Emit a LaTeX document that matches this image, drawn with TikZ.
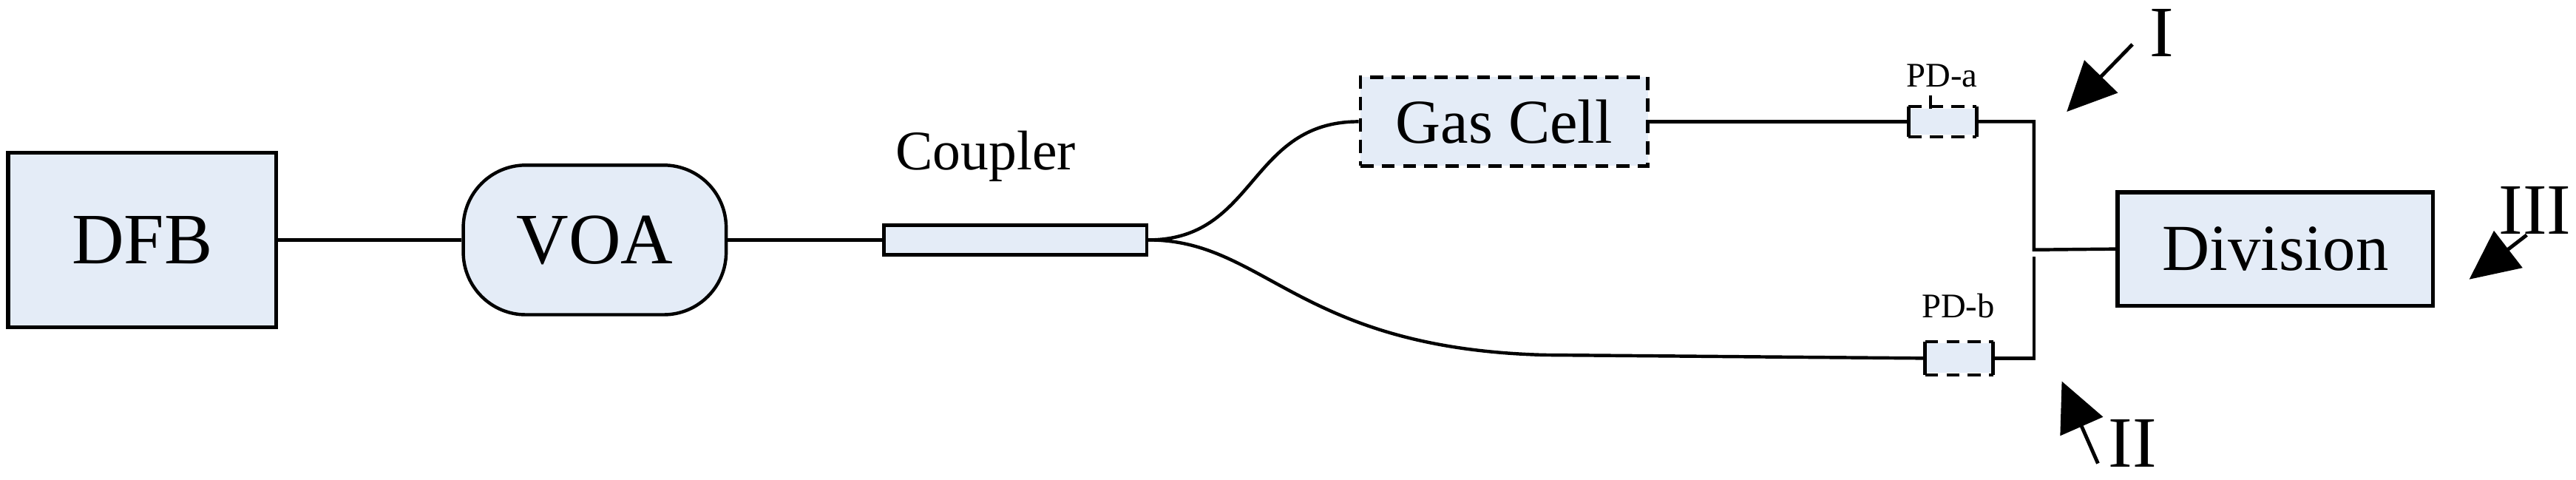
\documentclass[tikz,border=0pt]{standalone}
\usepackage{fontspec}
\setmainfont{Liberation Serif}
\usetikzlibrary{arrows.meta}
\definecolor{fillb}{RGB}{228,236,247}
\begin{document}
\begin{tikzpicture}[x=1pt,y=-1pt,
  box/.style={draw,line width=2.4pt,fill=fillb,inner sep=0pt},
  wire/.style={line width=2pt},
  dsh/.style={dash pattern=on 8pt off 5pt},
  lbl/.style={inner sep=0pt},
  arr/.style={line width=2.2pt,-{Triangle[length=30pt,width=28pt]}}]
\useasboundingbox (0,0) rectangle (1568,292);
\node[box,minimum width=163pt,minimum height=106pt,font=\fontsize{44}{44}\selectfont] (dfb) at (86.5,146) {DFB};
\node[box,line width=2pt,minimum width=160pt,minimum height=91pt,rounded corners=38pt,font=\fontsize{44}{44}\selectfont] (voa) at (362,146) {VOA};
\node[box,line width=2pt,minimum width=160pt,minimum height=18pt] (cp) at (618,146) {};
\node[lbl,font=\fontsize{34}{34}\selectfont] (cpl) at (600,95) {Coupler};
\node[box,line width=2pt,dsh,minimum width=175pt,minimum height=54pt,font=\fontsize{38}{38}\selectfont] (gas) at (915.5,74) {Gas Cell};
\node[box,draw=none,minimum width=39pt,minimum height=16pt] (pda) at (1182.5,74) {};
\draw[line width=2pt] (pda.north west)--(pda.south west) (pda.north east)--(pda.south east);
\draw[line width=2pt,dsh] (pda.north west)--(pda.north east) (pda.south west)--(pda.south east);
\draw[line width=2pt] (1175,66)--(1175,58);
\node[lbl,font=\fontsize{21}{21}\selectfont] (pdal) at (1182,46) {PD-a};
\node[box,draw=none,minimum width=39pt,minimum height=18pt] (pdb) at (1192.5,218) {};
\draw[line width=2pt] (pdb.north west)--(pdb.south west) (pdb.north east)--(pdb.south east);
\draw[line width=2pt,dsh] (pdb.north west)--(pdb.north east) (pdb.south west)--(pdb.south east);
\node[lbl,font=\fontsize{21}{21}\selectfont] (pdbl) at (1192,186) {PD-b};
\node[box,minimum width=192pt,minimum height=69pt,font=\fontsize{40}{40}\selectfont] (div) at (1385,151.5) {Division};
\coordinate (ta) at (1238,74);
\coordinate (tb) at (1238,218);
\coordinate (jm) at (1238,152);
\coordinate (jb) at (1238,156);
\draw[wire] (dfb.east)--(voa.west);
\draw[wire] (voa.east)--(cp.west);
\draw[wire] (cp.east) .. controls (765,146) and (760,74) .. (gas.west);
\draw[wire] (cp.east) .. controls (770,146) and (790,212) .. (940,216) -- (pdb.west);
\draw[wire] (gas.east)--(pda.west);
\draw[wire] (pda.east)--(ta)--(jm)--(div.west);
\draw[wire] (pdb.east)--(tb)--(jb);
\coordinate (a1) at (1298,27); \coordinate (a1t) at (1258,68);
\coordinate (a2) at (1277,282); \coordinate (a2t) at (1255,232);
\coordinate (a3) at (1538,143); \coordinate (a3t) at (1503,170);
\draw[arr] (a1)--(a1t);
\draw[arr] (a2)--(a2t);
\draw[arr] (a3)--(a3t);
\node[lbl,font=\fontsize{44}{44}\selectfont] (l1) at (1316,20) {I};
\node[lbl,font=\fontsize{44}{44}\selectfont] (l2) at (1298,270) {II};
\node[lbl,font=\fontsize{44}{44}\selectfont] (l3) at (1543,128) {III};
\end{tikzpicture}
\end{document}
